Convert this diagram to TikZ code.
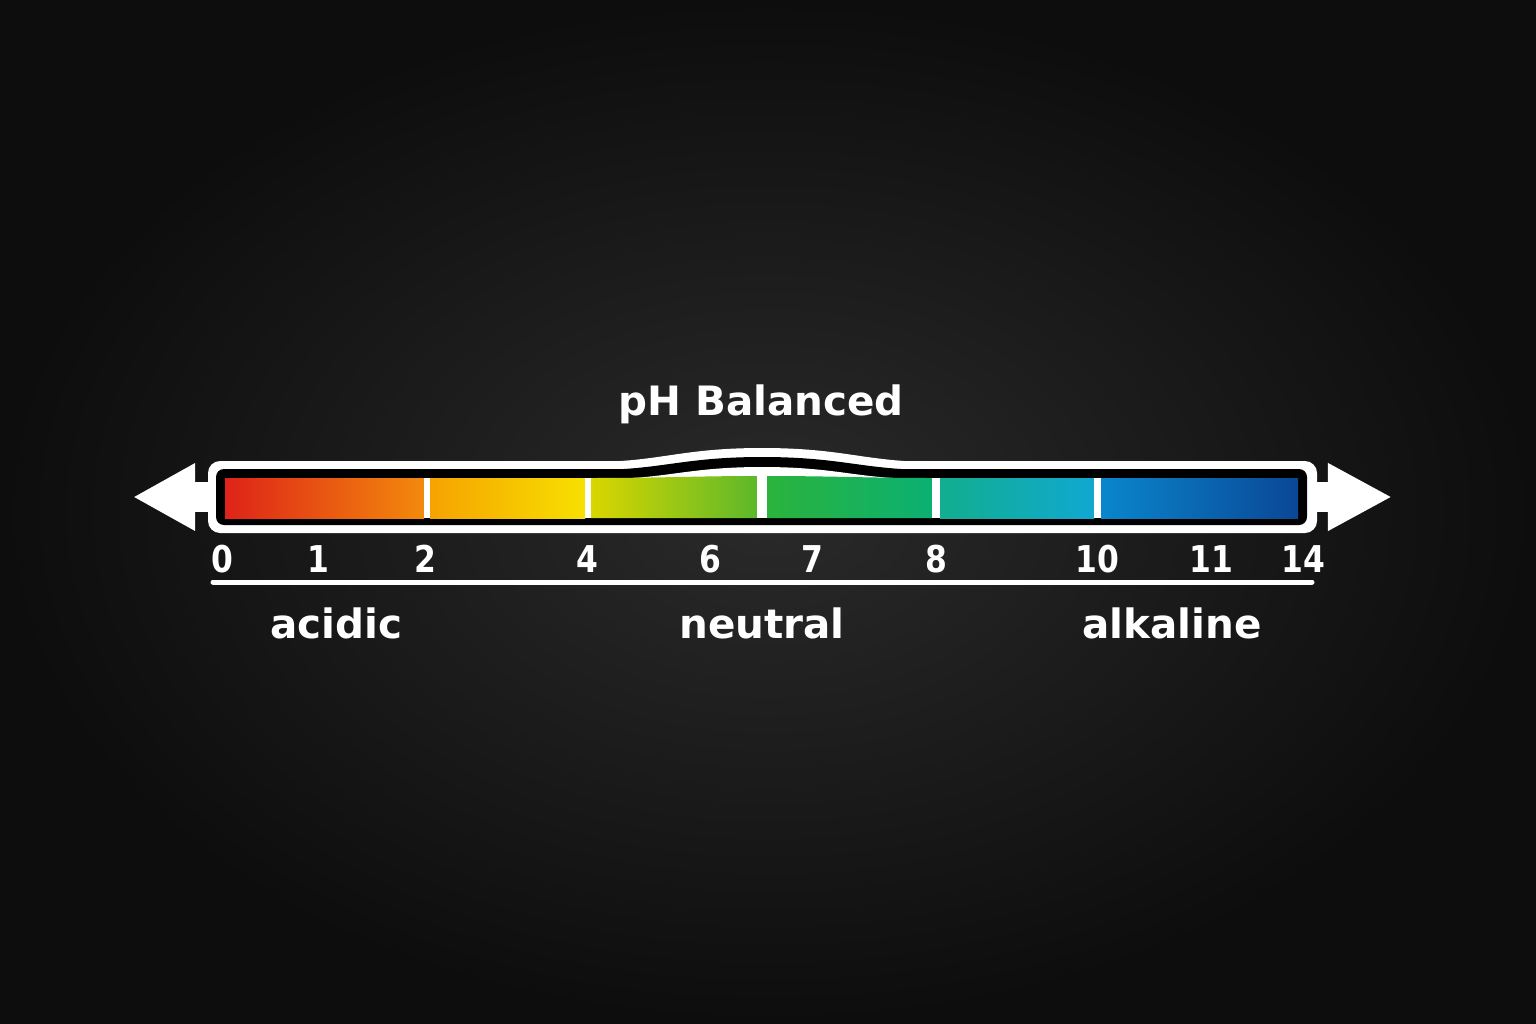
\documentclass[tikz,border=0pt]{standalone}
\usepackage{fontspec}
\setmainfont{DejaVu Sans}
\newfontfamily\cifre{DejaVu Sans}[FakeStretch=0.85]
\usetikzlibrary{arrows.meta}

\definecolor{sfondoC}{HTML}{2A2A2A}
\definecolor{sfondoE}{HTML}{0D0D0D}
\definecolor{rosso}{HTML}{DE2318}
\definecolor{arancio}{HTML}{F38A0C}
\definecolor{arancioB}{HTML}{F6A300}
\definecolor{giallo}{HTML}{F7E000}
\definecolor{gialloV}{HTML}{DAD600}
\definecolor{verdeA}{HTML}{5CB82A}
\definecolor{verdeB}{HTML}{2BB33C}
\definecolor{verdeC}{HTML}{0BB072}
\definecolor{turchese}{HTML}{12AE8E}
\definecolor{ciano}{HTML}{10A8D2}
\definecolor{bluA}{HTML}{0A86CC}
\definecolor{bluB}{HTML}{0A4796}

\begin{document}
\begin{tikzpicture}[x=0.01cm, y=-0.01cm]
	% Stili
	\tikzset{cifra/.style={anchor=base, text=white, font=\cifre\bfseries\fontsize{10.5}{12}\selectfont, inner sep=0pt},
		parola/.style={anchor=base, text=white, font=\bfseries\fontsize{11.5}{13}\selectfont, inner sep=0pt},
		tratto/.style={draw=white, line width=0.05cm, line cap=round},
		divisore/.style={fill=white}}
	
	% Sfondo
	\shade[inner color=sfondoC, outer color=sfondoE] (0,0) rectangle (1536,1024);
	\useasboundingbox (0,0) rectangle (1536,1024);
	
	% Freccia doppia dietro la scala
	\coordinate (P_sx) at (133,497);
	\coordinate (P_dx) at (1392,497);
	\draw[white, line width=0.29cm, {Triangle[length=0.62cm, width=0.63cm]}-{Triangle[length=0.64cm, width=0.63cm]}] (P_sx) -- (P_dx);
	
	% Cornice bianca con rigonfiamento
	\fill[white, rounded corners=0.12cm] (208,461) rectangle (1317,533);
	\fill[white] (590,462) .. controls (660,462) and (680,448) .. (762,448) .. controls (845,448) and (865,462) .. (935,462) -- cycle;
	
	% Bordo nero interno
	\fill[black, rounded corners=0.08cm] (216,469) rectangle (1307,525);
	\fill[black] (592,470) .. controls (662,470) and (682,457) .. (762,457) .. controls (843,457) and (863,470) .. (933,470) -- cycle;
	\fill[white] (602,479) .. controls (667,479) and (687,467) .. (762,467) .. controls (838,467) and (858,479) .. (923,479) -- cycle;
	
	% Segmenti colorati
	\shade[left color=rosso, right color=arancio] (225,478) rectangle (424,518);
	\shade[left color=arancioB, right color=giallo] (430,478) rectangle (585,518);
	\shade[left color=gialloV, right color=verdeA] (591,518) -- (591,478) .. controls (660,478) and (700,476) .. (757,476) -- (757,518) -- cycle;
	\shade[left color=verdeB, right color=verdeC] (767,518) -- (767,476) .. controls (830,476) and (870,478) .. (932,478) -- (932,518) -- cycle;
	\shade[left color=turchese, right color=ciano] (940,478) rectangle (1094,518);
	\shade[left color=bluA, right color=bluB] (1101,478) rectangle (1298,518);
	
	% Divisori bianchi
	\path[divisore] (424,478) rectangle (430,518);
	\path[divisore] (585,478) rectangle (591,518);
	\path[divisore] (757,475) rectangle (767,518);
	\path[divisore] (932,478) rectangle (940,518);
	\path[divisore] (1094,478) rectangle (1101,518);
	
	% Titolo
	\node[parola] (Titolo) at (761,415) {pH Balanced};
	
	% Valori
	\node[cifra] (N_0)  at (222,572) {0};
	\node[cifra] (N_1)  at (318,572) {1};
	\node[cifra] (N_2)  at (425,572) {2};
	\node[cifra] (N_4)  at (587,572) {4};
	\node[cifra] (N_6)  at (710,572) {6};
	\node[cifra] (N_7)  at (812,572) {7};
	\node[cifra] (N_8)  at (936,572) {8};
	\node[cifra] (N_10) at (1097,572) {10};
	\node[cifra] (N_11) at (1211,572) {11};
	\node[cifra] (N_14) at (1303,572) {14};
	
	% Linea sotto i valori
	\coordinate (R_sx) at (213,582);
	\coordinate (R_dx) at (1312,582);
	\draw[tratto] (R_sx) -- (R_dx);
	
	% Etichette
	\node[parola] (L_acid)     at (336,638) {acidic};
	\node[parola] (L_neutral)  at (762,638) {neutral};
	\node[parola] (L_alkaline) at (1172,638) {alkaline};
	
\end{tikzpicture}
\end{document}
